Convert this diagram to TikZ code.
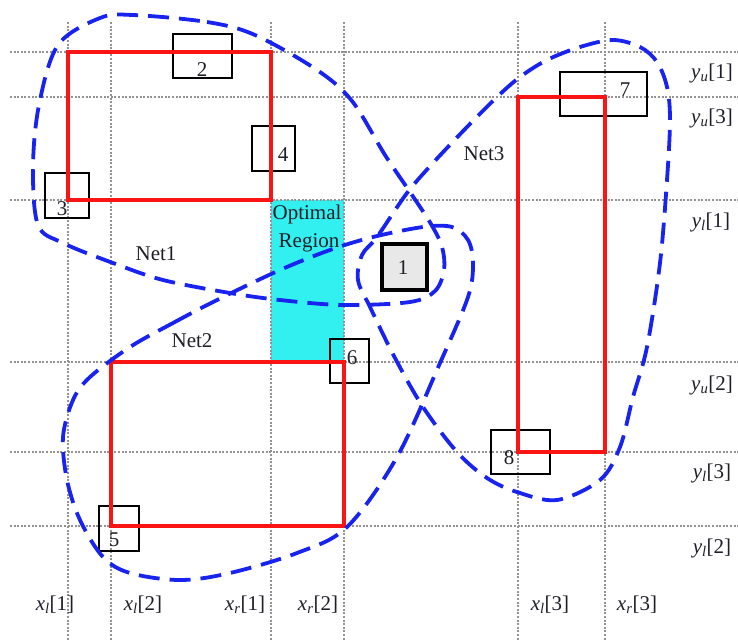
\documentclass[tikz,border=0pt]{standalone}
\usepackage{fontspec}
\setmainfont{Liberation Serif}
\newcommand\axlab[3]{\textit{#1}\textsubscript{\textit{#2}}[#3]}
\definecolor{netblue}{RGB}{25,35,240}
\definecolor{rectred}{RGB}{250,20,20}
\definecolor{optcyan}{RGB}{50,240,240}
\definecolor{pingray}{RGB}{232,232,232}
\definecolor{txt}{RGB}{30,30,40}
\begin{document}
\begin{tikzpicture}[x=1pt,y=-1pt,
  font=\fontsize{21}{24}\selectfont,
  gridline/.style={gray!85, line width=1.2pt, dash pattern=on 2pt off 1.6pt},
  netline/.style={netblue, line width=3.8pt, dash pattern=on 21pt off 10pt},
  rectline/.style={rectred, line width=4.8pt},
  pinbox/.style={draw=black, line width=2.4pt, inner sep=0pt},
  txtnode/.style={text=txt, inner sep=0pt}]
\useasboundingbox (0,0) rectangle (738,640);
% optimal region
\node[fill=optcyan, inner sep=0pt, minimum width=73pt, minimum height=162pt] (opt) at (307.5,281) {};
\node[txtnode] (optA) at (307,214) {Optimal};
\node[txtnode] (optB) at (309,243) {Region};
% grid
\foreach \yy in {52,97,200,362,452,526} \draw[gridline] (10,\yy) -- (738,\yy);
\foreach \xx in {68,111,271,344,518,605} \draw[gridline] (\xx,22) -- (\xx,640);
% pins
\node[pinbox, minimum width=59pt, minimum height=44pt] (p2) at (202.5,56) {};
\node[pinbox, minimum width=43pt, minimum height=45pt] (p4) at (273.5,148.5) {};
\node[pinbox, minimum width=44pt, minimum height=45pt] (p3) at (67,195.5) {};
\node[pinbox, fill=pingray, line width=3.2pt, minimum width=45pt, minimum height=46pt] (p1) at (404.5,267) {};
\node[pinbox, minimum width=39pt, minimum height=44pt] (p6) at (349.5,361) {};
\node[pinbox, minimum width=87pt, minimum height=44pt] (p7) at (603.5,94) {};
\node[pinbox, minimum width=59pt, minimum height=44pt] (p8) at (520.5,452) {};
\node[pinbox, minimum width=40pt, minimum height=45pt] (p5) at (119,528.5) {};
% red bounding boxes
\draw[rectline] (68,52) rectangle (271,200);
\draw[rectline] (111,362) rectangle (344,526);
\draw[rectline] (518,97) rectangle (605,452);
% pin numbers
\node[txtnode] (n2) at (202,70) {2};
\node[txtnode] (n4) at (283,155) {4};
\node[txtnode] (n3) at (62,209) {3};
\node[txtnode] (n1) at (403,268) {1};
\node[txtnode] (n6) at (352,358) {6};
\node[txtnode] (n7) at (625,90) {7};
\node[txtnode] (n8) at (509,458) {8};
\node[txtnode] (n5) at (114,540) {5};
% net labels
\node[txtnode] (net1) at (156,254) {Net1};
\node[txtnode] (net2) at (192,341) {Net2};
\node[txtnode] (net3) at (484,154) {Net3};
% axis labels
\node[txtnode] (yu1) at (712,73) {\axlab{y}{u}{1}};
\node[txtnode] (yu3) at (712,118) {\axlab{y}{u}{3}};
\node[txtnode] (yl1) at (711,222) {\axlab{y}{l}{1}};
\node[txtnode] (yu2) at (712,385) {\axlab{y}{u}{2}};
\node[txtnode] (yl3) at (712,473) {\axlab{y}{l}{3}};
\node[txtnode] (yl2) at (712,548) {\axlab{y}{l}{2}};
\node[txtnode] (xl1) at (55,605) {\axlab{x}{l}{1}};
\node[txtnode] (xl2) at (143,605) {\axlab{x}{l}{2}};
\node[txtnode] (xr1) at (245,605) {\axlab{x}{r}{1}};
\node[txtnode] (xr2) at (318,605) {\axlab{x}{r}{2}};
\node[txtnode] (xl3) at (550,605) {\axlab{x}{l}{3}};
\node[txtnode] (xr3) at (637,605) {\axlab{x}{r}{3}};
% nets
\draw[netline] plot[smooth cycle, tension=0.55] coordinates {
  (133,15) (207,22) (255,35) (317,70) (352,101) (385,155) (412,195) (431,224)
  (442,247) (444,270) (435,291) (410,302) (343,305) (280,300) (230,293)
  (163,280) (113,263) (63,243) (38,225) (33,167) (39,105) (58,45) (100,18)};
\draw[netline] plot[smooth cycle, tension=0.55] coordinates {
  (130,347) (173,323) (217,300) (280,270) (330,250) (373,237) (423,227)
  (452,227) (468,240) (473,263) (468,297) (440,363) (397,457) (347,527)
  (297,553) (230,573) (180,580) (130,573) (103,557) (80,520) (67,480)
  (63,437) (73,400) (90,377)};
\draw[netline] plot[smooth cycle, tension=0.55] coordinates {
  (613,40) (640,47) (657,62) (667,87) (670,120) (667,180) (660,263)
  (647,347) (633,397) (620,447) (600,480) (557,500) (517,492) (487,478)
  (457,452) (423,407) (395,358) (370,307) (358,280) (362,255) (377,237)
  (407,193) (433,163) (467,127) (497,97) (520,77) (547,60) (580,47)};
\end{tikzpicture}
\end{document}
